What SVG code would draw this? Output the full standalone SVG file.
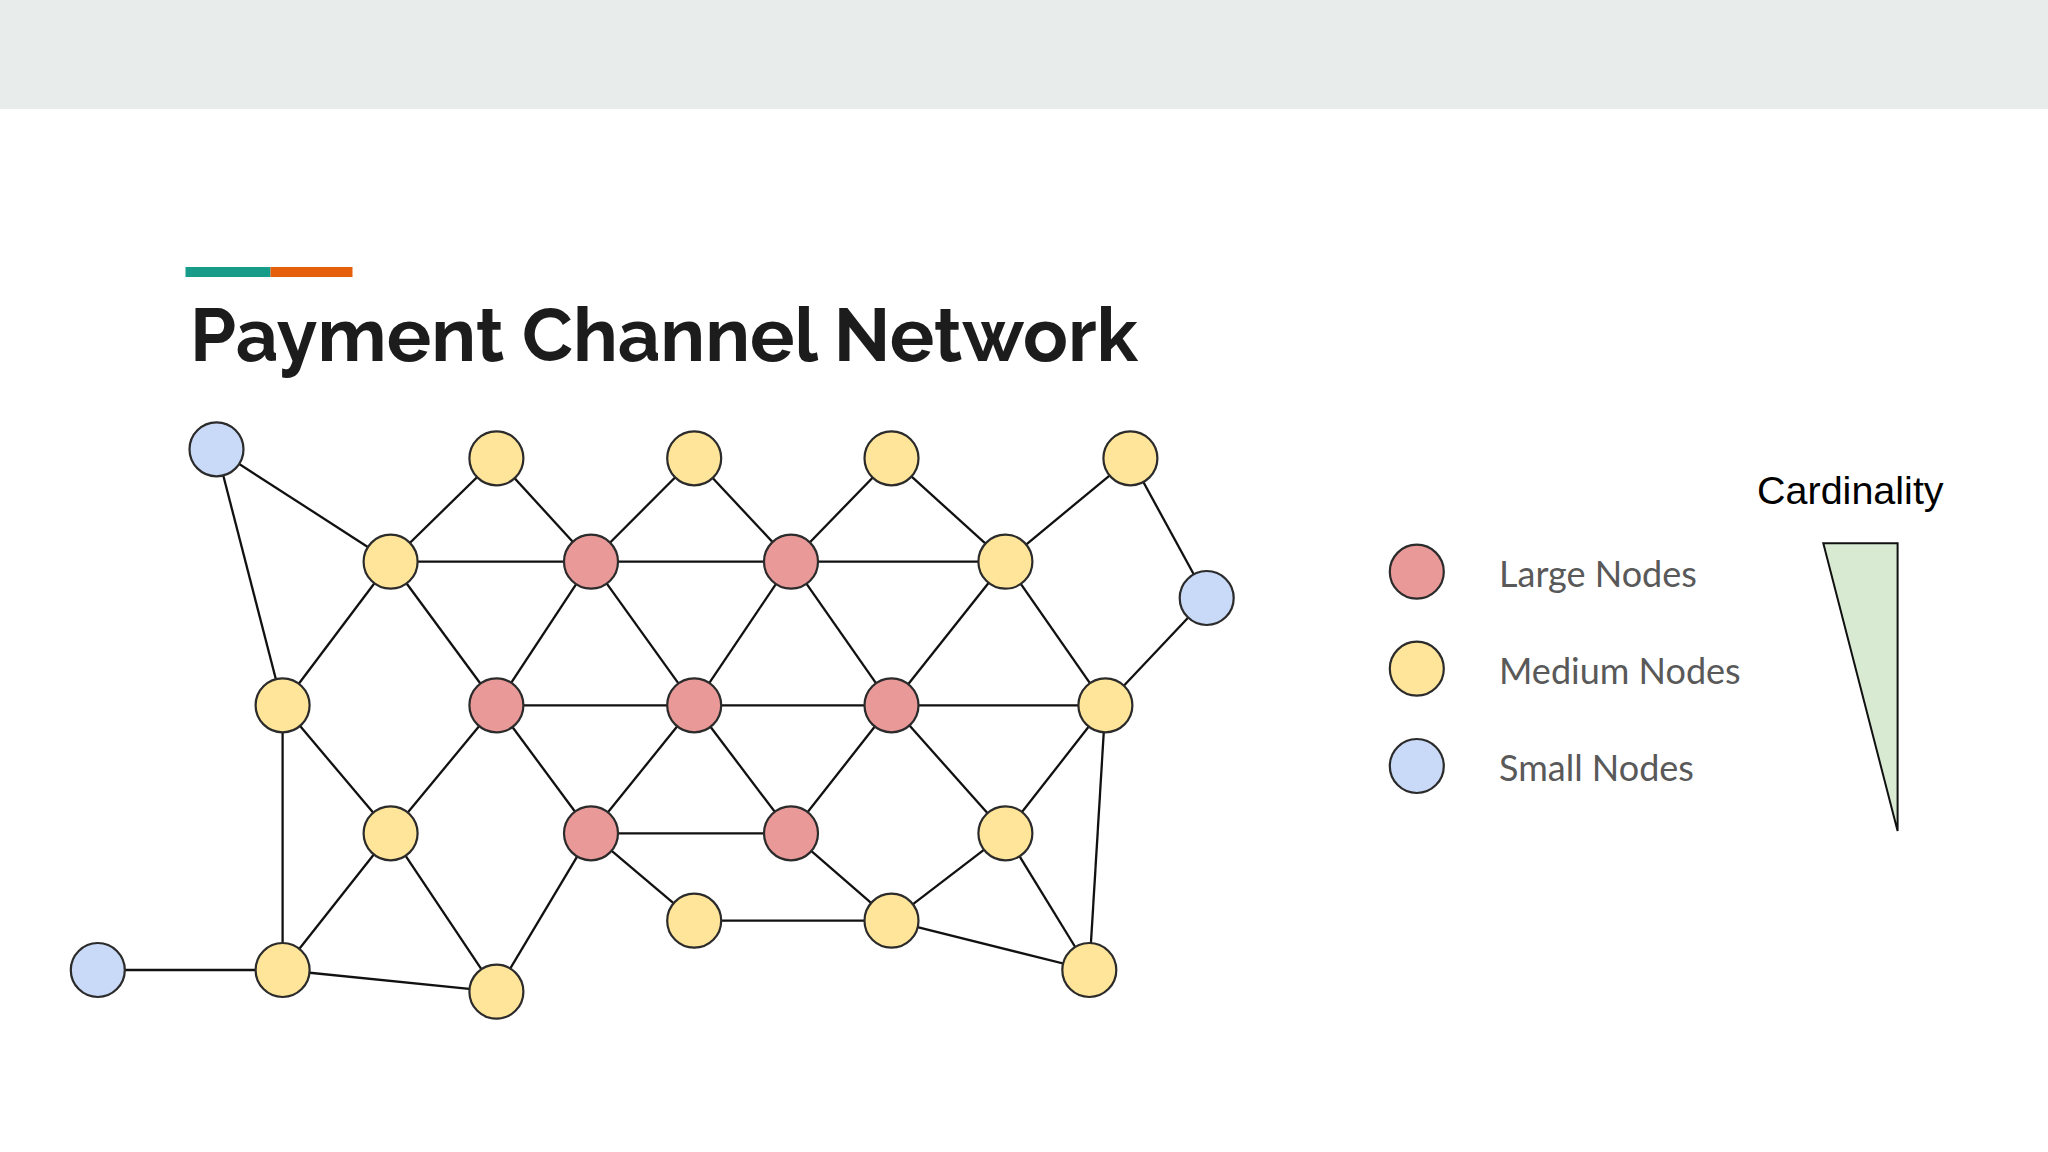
<svg xmlns="http://www.w3.org/2000/svg" width="2048" height="1152" viewBox="0 0 2048 1152">
<style>
.n circle{stroke:#2b2b2b;stroke-width:2.2}
.lg{fill:#EA9999}
.md{fill:#FFE599}
.sm{fill:#C9DAF8}
#edges line{stroke:#111;stroke-width:2.3}
.leg{font-family:Lato,"Open Sans",sans-serif;font-size:36px;fill:#595959}
</style>
<rect x="0" y="0" width="2048" height="1152" fill="#FFFFFF"/>
<rect x="0" y="0" width="2048" height="109" fill="#E8EDEB"/>
<rect x="185.5" y="267" width="85" height="10" fill="#189C8A"/>
<rect x="270.5" y="267" width="82" height="10" fill="#E65F0A"/>
<text x="190" y="360.5" font-family="Raleway,Lato,'Open Sans',sans-serif" font-weight="bold" font-size="75" fill="#1c1c1c" textLength="948" lengthAdjust="spacingAndGlyphs">Payment Channel Network</text>

<g id="edges">
<line x1="216.5" y1="449.3" x2="390.6" y2="561.7"/>
<line x1="216.5" y1="449.3" x2="282.6" y2="705.3"/>
<line x1="496.4" y1="458.3" x2="390.6" y2="561.7"/>
<line x1="496.4" y1="458.3" x2="591" y2="561.7"/>
<line x1="694.2" y1="458.3" x2="591" y2="561.7"/>
<line x1="694.2" y1="458.3" x2="791" y2="561.7"/>
<line x1="891.5" y1="458.3" x2="791" y2="561.7"/>
<line x1="891.5" y1="458.3" x2="1005.4" y2="561.7"/>
<line x1="1130.4" y1="458.3" x2="1005.4" y2="561.7"/>
<line x1="1130.4" y1="458.3" x2="1206.7" y2="598"/>
<line x1="390.6" y1="561.7" x2="1005.4" y2="561.7"/>
<line x1="390.6" y1="561.7" x2="282.6" y2="705.3"/>
<line x1="390.6" y1="561.7" x2="496.4" y2="705.3"/>
<line x1="591" y1="561.7" x2="496.4" y2="705.3"/>
<line x1="591" y1="561.7" x2="694.2" y2="705.3"/>
<line x1="791" y1="561.7" x2="694.2" y2="705.3"/>
<line x1="791" y1="561.7" x2="891.5" y2="705.3"/>
<line x1="1005.4" y1="561.7" x2="891.5" y2="705.3"/>
<line x1="1005.4" y1="561.7" x2="1105.4" y2="705.3"/>
<line x1="1206.7" y1="598" x2="1105.4" y2="705.3"/>
<line x1="496.4" y1="705.3" x2="1105.4" y2="705.3"/>
<line x1="282.6" y1="705.3" x2="390.6" y2="833.3"/>
<line x1="282.6" y1="705.3" x2="282.6" y2="970"/>
<line x1="496.4" y1="705.3" x2="390.6" y2="833.3"/>
<line x1="496.4" y1="705.3" x2="591" y2="833.3"/>
<line x1="694.2" y1="705.3" x2="591" y2="833.3"/>
<line x1="694.2" y1="705.3" x2="791" y2="833.3"/>
<line x1="891.5" y1="705.3" x2="791" y2="833.3"/>
<line x1="891.5" y1="705.3" x2="1005.4" y2="833.3"/>
<line x1="1105.4" y1="705.3" x2="1005.4" y2="833.3"/>
<line x1="1105.4" y1="705.3" x2="1089.3" y2="970"/>
<line x1="390.6" y1="833.3" x2="282.6" y2="970"/>
<line x1="390.6" y1="833.3" x2="496.4" y2="991.7"/>
<line x1="591" y1="833.3" x2="496.4" y2="991.7"/>
<line x1="591" y1="833.3" x2="791" y2="833.3"/>
<line x1="591" y1="833.3" x2="694.2" y2="920.7"/>
<line x1="791" y1="833.3" x2="891.5" y2="920.7"/>
<line x1="1005.4" y1="833.3" x2="891.5" y2="920.7"/>
<line x1="1005.4" y1="833.3" x2="1089.3" y2="970"/>
<line x1="694.2" y1="920.7" x2="891.5" y2="920.7"/>
<line x1="891.5" y1="920.7" x2="1089.3" y2="970"/>
<line x1="97.8" y1="970" x2="282.6" y2="970"/>
<line x1="282.6" y1="970" x2="496.4" y2="991.7"/>
</g>

<g id="nodes" class="n">
<g id="n-small-1"><circle class="sm" cx="216.5" cy="449.3" r="27"/></g>
<g id="n-top-1"><circle class="md" cx="496.4" cy="458.3" r="27"/></g>
<g id="n-top-2"><circle class="md" cx="694.2" cy="458.3" r="27"/></g>
<g id="n-top-3"><circle class="md" cx="891.5" cy="458.3" r="27"/></g>
<g id="n-top-4"><circle class="md" cx="1130.4" cy="458.3" r="27"/></g>
<g id="n-r2-1"><circle class="md" cx="390.6" cy="561.7" r="27"/></g>
<g id="n-r2-2"><circle class="lg" cx="591" cy="561.7" r="27"/></g>
<g id="n-r2-3"><circle class="lg" cx="791" cy="561.7" r="27"/></g>
<g id="n-r2-4"><circle class="md" cx="1005.4" cy="561.7" r="27"/></g>
<g id="n-small-2"><circle class="sm" cx="1206.7" cy="598" r="27"/></g>
<g id="n-r3-1"><circle class="md" cx="282.6" cy="705.3" r="27"/></g>
<g id="n-r3-2"><circle class="lg" cx="496.4" cy="705.3" r="27"/></g>
<g id="n-r3-3"><circle class="lg" cx="694.2" cy="705.3" r="27"/></g>
<g id="n-r3-4"><circle class="lg" cx="891.5" cy="705.3" r="27"/></g>
<g id="n-r3-5"><circle class="md" cx="1105.4" cy="705.3" r="27"/></g>
<g id="n-r4-1"><circle class="md" cx="390.6" cy="833.3" r="27"/></g>
<g id="n-r4-2"><circle class="lg" cx="591" cy="833.3" r="27"/></g>
<g id="n-r4-3"><circle class="lg" cx="791" cy="833.3" r="27"/></g>
<g id="n-r4-4"><circle class="md" cx="1005.4" cy="833.3" r="27"/></g>
<g id="n-r5-1"><circle class="md" cx="694.2" cy="920.7" r="27"/></g>
<g id="n-r5-2"><circle class="md" cx="891.5" cy="920.7" r="27"/></g>
<g id="n-small-3"><circle class="sm" cx="97.8" cy="970" r="27"/></g>
<g id="n-b-1"><circle class="md" cx="282.6" cy="970" r="27"/></g>
<g id="n-b-2"><circle class="md" cx="496.4" cy="991.7" r="27"/></g>
<g id="n-b-3"><circle class="md" cx="1089.3" cy="970" r="27"/></g>
</g>

<g id="legend">
<g id="leg-large" class="n"><circle class="lg" cx="1416.8" cy="571.7" r="27"/><text class="leg" x="1499" y="587">Large Nodes</text></g>
<g id="leg-medium" class="n"><circle class="md" cx="1416.8" cy="668.7" r="27"/><text class="leg" x="1499" y="683.5">Medium Nodes</text></g>
<g id="leg-small" class="n"><circle class="sm" cx="1416.8" cy="766" r="27"/><text class="leg" x="1499" y="780.5">Small Nodes</text></g>
</g>

<g id="cardinality">
<text x="1757" y="504" font-family="'Liberation Sans',Arial,sans-serif" font-size="39.5" fill="#000">Cardinality</text>
<polygon points="1823.3,543.3 1897.6,543.3 1897.6,831" fill="#D9EAD3" stroke="#111" stroke-width="2"/>
</g>
</svg>
